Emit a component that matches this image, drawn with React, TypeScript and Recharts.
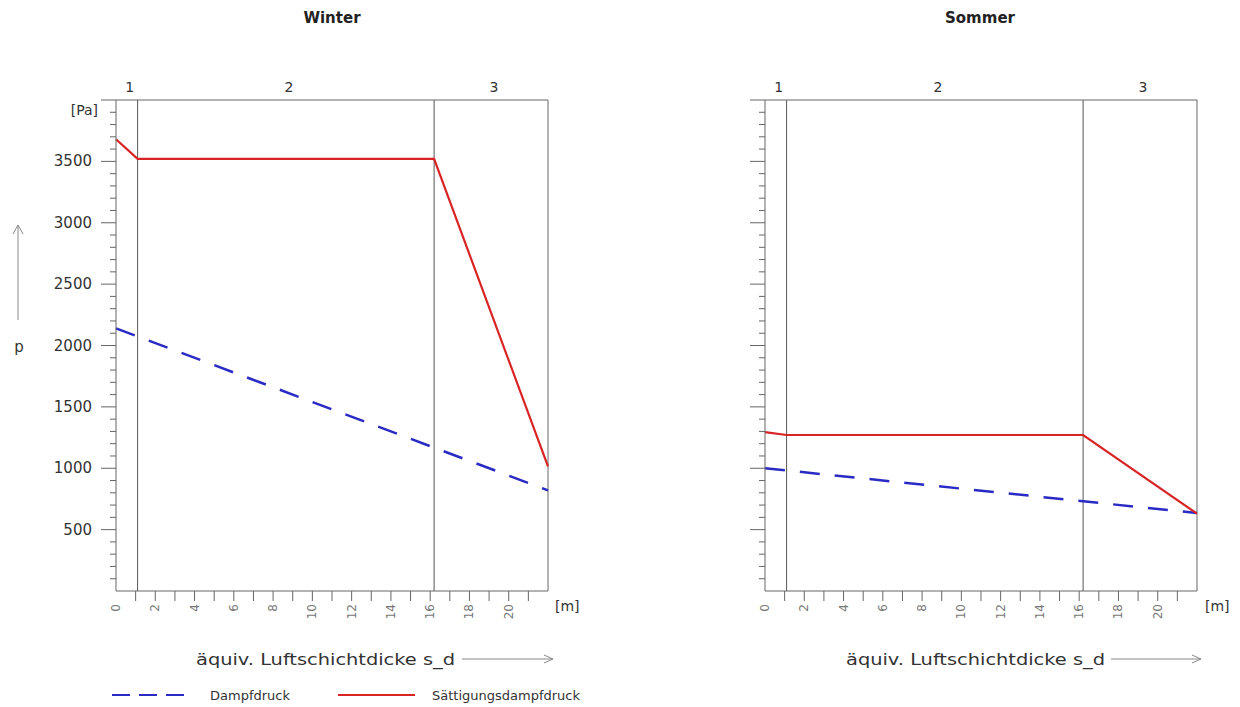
import React from 'react';
import { LineChart, Line, XAxis, YAxis, ReferenceLine } from 'recharts';

// Schichtgrenzen (äquiv. Luftschichtdicke s_d in m)
const layerBounds = [0, 1.1, 16.2, 22];
const layerLabels = ['1', '2', '3'];
const xTicks = [0, 1, 2, 3, 4, 5, 6, 7, 8, 9, 10, 11, 12, 13, 14, 15, 16, 17, 18, 19, 20, 21, 22];
const xLabelTicks = [0, 2, 4, 6, 8, 10, 12, 14, 16, 18, 20];
const yTicks = [100, 200, 300, 400, 500, 600, 700, 800, 900, 1000, 1100, 1200, 1300, 1400, 1500, 1600, 1700, 1800, 1900, 2000,
  2100, 2200, 2300, 2400, 2500, 2600, 2700, 2800, 2900, 3000, 3100, 3200, 3300, 3400, 3500, 3600, 3700, 3800, 3900, 4000];
const yLabelTicks = [500, 1000, 1500, 2000, 2500, 3000, 3500];

// Winter
const winterSat = [3680, 3520, 3520, 1015];
const winterDampf = [2140, 2074, 1168, 820];
// Sommer
const sommerSat = [1295, 1271, 1271, 630];
const sommerDampf = [1000, 982, 731, 635];

const FONT = '"DejaVu Sans", Verdana, sans-serif';
const AXIS = '#666';
const RED = '#d82424';
const BLUE = '#2a2ac4';

const XTick = (props: any) => {
  const { x, y, payload } = props;
  const v = payload.value;
  const showLabel = xLabelTicks.includes(v);
  return (
    <g>
      {v > 0 && v < 22 && <line x1={x} x2={x} y1={y} y2={y + 10} stroke={AXIS} />}
      {showLabel && (
        <text x={x} y={y + 13} transform={`rotate(-90, ${x}, ${y + 13})`} textAnchor="end" dominantBaseline="central"
          fontFamily={FONT} fontSize={12} fill="#777">{v}</text>
      )}
    </g>
  );
};

const TopTick = (props: any) => {
  const { x, y, payload } = props;
  const idx = layerBounds.findIndex((b, i) => i < layerBounds.length - 1 && payload.value > b && payload.value < layerBounds[i + 1]);
  return (
    <text x={x + 3} y={y - 8} textAnchor="middle" fontFamily={FONT} fontSize={14} fill="#333">{layerLabels[idx]}</text>
  );
};

const YTick = (props: any) => {
  const { x, y, payload, showLabel } = props;
  const v = payload.value;
  const major = v % 500 === 0;
  const len = major ? 15 : 6;
  return (
    <g>
      <line x1={x - len} x2={x} y1={y} y2={y} stroke={AXIS} />
      {showLabel && yLabelTicks.includes(v) && (
        <text x={x - 24} y={y} textAnchor="end" dominantBaseline="central" fontFamily={FONT} fontSize={15} fill="#333">{v}</text>
      )}
      {showLabel && v === 4000 && (
        <text x={x - 18} y={y + 10} textAnchor="end" dominantBaseline="central" fontFamily={FONT} fontSize={14} fill="#333">[Pa]</text>
      )}
    </g>
  );
};

function Panel({ sat, dampf, showYLabels }: { sat: number[]; dampf: number[]; showYLabels: boolean }) {
  const satData = layerBounds.map((x, i) => ({ x, p: sat[i] }));
  const dampfData = layerBounds.map((x, i) => ({ x, p: dampf[i] }));
  const mids = layerBounds.slice(0, -1).map((b, i) => (b + layerBounds[i + 1]) / 2);
  return (
    <LineChart width={620} height={707} margin={{ top: 80, right: 72, bottom: 86, left: 56 }}>
      <XAxis xAxisId="b" type="number" dataKey="x" domain={[0, 22]} ticks={xTicks} interval={0}
        tickSize={0} tickMargin={0} tickLine={false} tick={<XTick />} axisLine={{ stroke: AXIS }} height={30} />
      <XAxis xAxisId="t" orientation="top" type="number" dataKey="x" domain={[0, 22]} ticks={mids} interval={0}
        tickSize={0} tickMargin={0} tickLine={false} tick={<TopTick />} axisLine={{ stroke: AXIS }} height={20} />
      <YAxis type="number" domain={[0, 4000]} ticks={yTicks} interval={0} tickSize={0} tickMargin={0}
        tickLine={false} tick={<YTick showLabel={showYLabels} />} axisLine={{ stroke: AXIS }} width={60} />
      <ReferenceLine xAxisId="b" x={layerBounds[1]} stroke="#555" />
      <ReferenceLine xAxisId="b" x={layerBounds[2]} stroke="#555" />
      <ReferenceLine xAxisId="b" x={layerBounds[3]} stroke={AXIS} />
      <Line xAxisId="b" data={dampfData} dataKey="p" type="linear" stroke={BLUE} strokeWidth={2.5}
        strokeDasharray="20 15" dot={false} isAnimationActive={false} />
      <Line xAxisId="t" data={satData} dataKey="p" type="linear" stroke={RED} strokeWidth={2.2}
        dot={false} isAnimationActive={false} />
    </LineChart>
  );
}

function Overlay() {
  const arrow = (x1: number, x2: number, y: number) => (
    <g stroke="#888" strokeWidth={1} fill="none">
      <line x1={x1} x2={x2} y1={y} y2={y} />
      <polyline points={`${x2 - 9},${y - 4} ${x2},${y} ${x2 - 9},${y + 4}`} />
    </g>
  );
  return (
    <svg width={1240} height={707} style={{ position: 'absolute', left: 0, top: 0, pointerEvents: 'none' }}>
      <text x={332} y={18} textAnchor="middle" dominantBaseline="central" fontFamily={FONT} fontWeight="bold" fontSize={15} fill="#222">Winter</text>
      <text x={980} y={18} textAnchor="middle" dominantBaseline="central" fontFamily={FONT} fontWeight="bold" fontSize={15} fill="#222">Sommer</text>

      {/* y-axis arrow and label */}
      <g stroke="#888" strokeWidth={1} fill="none">
        <line x1={18} x2={18} y1={320} y2={225} />
        <polyline points="13,234 18,225 23,234" />
      </g>
      <text x={19} y={347} textAnchor="middle" dominantBaseline="central" fontFamily={FONT} fontSize={15} fill="#333">p</text>

      {/* unit labels */}
      <text x={555} y={606} dominantBaseline="central" fontFamily={FONT} fontSize={14} fill="#333">[m]</text>
      <text x={1205} y={606} dominantBaseline="central" fontFamily={FONT} fontSize={14} fill="#333">[m]</text>

      {/* x-axis titles */}
      <text x={196} y={659} dominantBaseline="central" fontFamily={FONT} fontSize={16} fill="#333" textLength={259} lengthAdjust="spacingAndGlyphs">äquiv. Luftschichtdicke s_d</text>
      {arrow(462, 553, 659)}
      <text x={846} y={659} dominantBaseline="central" fontFamily={FONT} fontSize={16} fill="#333" textLength={259} lengthAdjust="spacingAndGlyphs">äquiv. Luftschichtdicke s_d</text>
      {arrow(1111, 1201, 659)}

      {/* legend */}
      <line x1={112} x2={185} y1={695} y2={695} stroke={BLUE} strokeWidth={2} strokeDasharray="18 9" />
      <text x={210} y={695} dominantBaseline="central" fontFamily={FONT} fontSize={13} fill="#333">Dampfdruck</text>
      <line x1={338} x2={415} y1={695} y2={695} stroke={RED} strokeWidth={2} />
      <text x={432} y={695} dominantBaseline="central" fontFamily={FONT} fontSize={13} fill="#333">Sättigungsdampfdruck</text>
    </svg>
  );
}

export default function App() {
  return (
    <div style={{ position: 'absolute', left: 0, top: 0, width: 1240, height: 707, background: '#fff', overflow: 'hidden' }}>
      <div style={{ position: 'absolute', left: 0, top: 0 }}>
        <Panel sat={winterSat} dampf={winterDampf} showYLabels={true} />
      </div>
      <div style={{ position: 'absolute', left: 649, top: 0 }}>
        <Panel sat={sommerSat} dampf={sommerDampf} showYLabels={false} />
      </div>
      <Overlay />
    </div>
  );
}
